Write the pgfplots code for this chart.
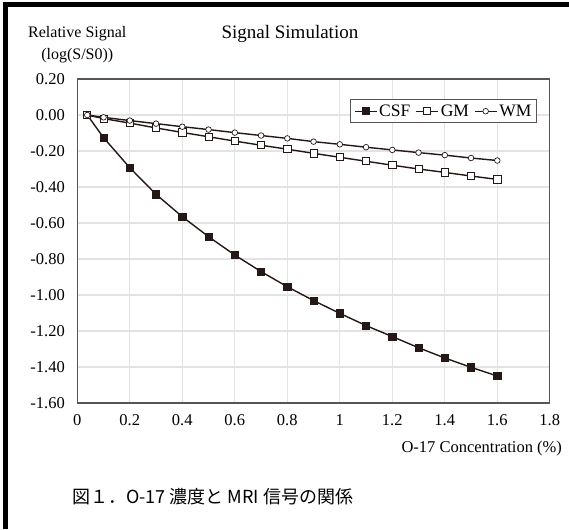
\documentclass[border=0pt]{standalone}
\usepackage{pgfplots}
\pgfplotsset{compat=1.18}
\usepackage{fontspec}
\setmainfont{Liberation Serif}
\newfontfamily\cjk{Noto Sans CJK JP}
\definecolor{ink}{HTML}{231815}
\definecolor{axc}{HTML}{595353}
\definecolor{gridc}{HTML}{E3E3E3}
\begin{document}
\begin{tikzpicture}
\path[use as bounding box] (0,0) rectangle (569pt,529pt);
\draw[line width=5pt, black] (5pt,0pt) -- (5pt,524.5pt) -- (569pt,524.5pt);
\begin{axis}[
  at={(77.3pt,126pt)}, anchor=south west,
  scale only axis, width=472.5pt, height=324pt,
  xmin=0, xmax=1.8, ymin=-1.6, ymax=0.2,
  xtick={0,0.2,...,1.8}, ytick={-1.6,-1.4,...,0.2},
  xticklabels={0,0.2,0.4,0.6,0.8,1,1.2,1.4,1.6,1.8},
  yticklabel style={/pgf/number format/fixed, /pgf/number format/fixed zerofill, /pgf/number format/precision=2, xshift=-9pt},
  xticklabel style={yshift=-8pt},
  /pgf/number format/assume math mode=true,
  major tick length=0pt,
  grid=major,
  major grid style={gridc, line width=1.2pt},
  axis line style={axc, line width=1.3pt},
  tick label style={font=\fontsize{16.5}{18}\selectfont, text=black},
  title={Signal Simulation},
  title style={font=\fontsize{19}{21}\selectfont, at={(axis description cs:0.45,1.12)}, anchor=center},
  ylabel={Relative Signal\\(log(S/S0))},
  ylabel style={font=\fontsize{16}{22}\selectfont, align=center, rotate=-90, at={(axis description cs:0.0,1.105)}, anchor=center},
  xlabel={O-17 Concentration (\%)},
  xlabel style={font=\fontsize{16.5}{18}\selectfont, at={(axis description cs:1.033,-0.14)}, anchor=east},
  legend columns=3,
  legend style={at={(axis description cs:0.973,0.938)}, anchor=north east, draw=axc, line width=1.2pt, fill=white, font=\fontsize{17.5}{19}\selectfont, inner xsep=3pt, inner ysep=3pt, /tikz/every even column/.append style={column sep=3pt}},
  legend image code/.code={\draw[mark repeat=2,mark phase=2,#1] plot coordinates {(0pt,0pt) (11pt,0pt) (22pt,0pt)};},
  every axis plot/.append style={ink, line width=1.4pt},
]
\addplot[mark=square*, mark size=3.6pt, mark options={fill=ink, line width=0.8pt}] coordinates {
(0.038,0) (0.1,-0.126) (0.2,-0.293) (0.3,-0.441) (0.4,-0.565) (0.5,-0.676) (0.6,-0.778) (0.7,-0.870) (0.8,-0.954) (0.9,-1.031) (1.0,-1.102) (1.1,-1.170) (1.2,-1.231) (1.3,-1.293) (1.4,-1.350) (1.5,-1.402) (1.6,-1.450)};
\addlegendentry{CSF}
\addplot[mark=square*, mark size=3.6pt, mark options={fill=white, line width=0.8pt}] coordinates {
(0.038,0) (0.1,-0.020) (0.2,-0.045) (0.3,-0.072) (0.4,-0.097) (0.5,-0.121) (0.6,-0.145) (0.7,-0.168) (0.8,-0.190) (0.9,-0.213) (1.0,-0.235) (1.1,-0.257) (1.2,-0.279) (1.3,-0.300) (1.4,-0.319) (1.5,-0.339) (1.6,-0.358)};
\addlegendentry{GM}
\addplot[mark=*, mark size=2.8pt, mark options={fill=white, line width=0.7pt}] coordinates {
(0.038,0) (0.1,-0.013) (0.2,-0.031) (0.3,-0.048) (0.4,-0.065) (0.5,-0.081) (0.6,-0.098) (0.7,-0.114) (0.8,-0.130) (0.9,-0.148) (1.0,-0.163) (1.1,-0.179) (1.2,-0.194) (1.3,-0.209) (1.4,-0.223) (1.5,-0.239) (1.6,-0.253)};
\addlegendentry{WM}
\end{axis}
\node[anchor=west, font=\cjk\fontsize{18}{20}\selectfont, inner sep=0pt] at (72pt,32pt) {図１．O-17 濃度と MRI 信号の関係};
\end{tikzpicture}
\end{document}
